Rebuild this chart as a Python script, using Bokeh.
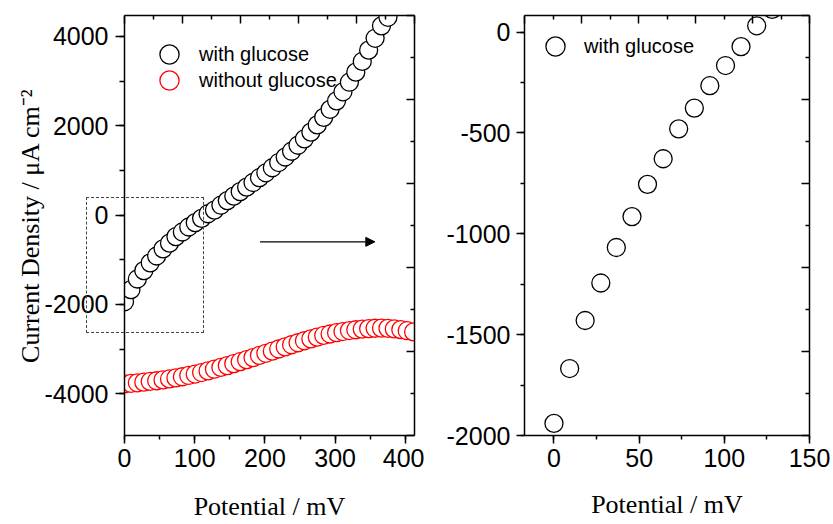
from bokeh.plotting import figure
from bokeh.models import (Range1d, LinearAxis, FixedTicker, SingleIntervalTicker,
                          PrintfTickFormatter, Legend, LegendItem, Arrow, NormalHead, Div)
from bokeh.layouts import row
from bokeh.embed import file_html
from bokeh.resources import INLINE

# ---------------- data ----------------
potential_glucose = [0.0, 9.2, 18.3, 27.5, 36.6, 45.8, 54.9, 64.1, 73.2, 82.4,
                     91.5, 100.7, 109.8, 119.0, 128.1, 137.3, 146.4, 155.6, 164.7, 173.9,
                     183.0, 192.2, 201.3, 210.5, 219.6, 228.8, 237.9, 247.1, 256.2, 265.4,
                     274.5, 283.7, 292.8, 302.0, 311.1, 320.3, 329.4, 338.6, 347.7, 356.9,
                     366.0, 375.2]
with_glucose = [-1940, -1668, -1430, -1244, -1068, -915, -755, -628, -480, -377,
                -266, -166, -72, 31, 112, 222, 326, 427, 527, 628,
                731, 838, 948, 1061, 1178, 1301, 1430, 1565, 1708, 1860,
                2020, 2190, 2370, 2560, 2762, 2976, 3202, 3441, 3694, 3960,
                4238, 4430]

potential_blank = [0.0, 9.2, 18.3, 27.5, 36.6, 45.8, 54.9, 64.1, 73.2, 82.4,
                   91.5, 100.7, 109.8, 119.0, 128.1, 137.3, 146.4, 155.6, 164.7, 173.9,
                   183.0, 192.2, 201.3, 210.5, 219.6, 228.8, 237.9, 247.1, 256.2, 265.4,
                   274.5, 283.7, 292.8, 302.0, 311.1, 320.3, 329.4, 338.6, 347.7, 356.9,
                   366.0, 375.2, 384.3, 393.5, 402.6, 411.8]
without_glucose = [-3780, -3768, -3754, -3740, -3724, -3708, -3690, -3668, -3644, -3618,
                   -3590, -3558, -3524, -3488, -3450, -3410, -3369, -3326, -3282, -3236,
                   -3189, -3141, -3093, -3045, -2997, -2949, -2902, -2857, -2813, -2771,
                   -2731, -2694, -2661, -2632, -2606, -2584, -2566, -2551, -2540, -2533,
                   -2530, -2534, -2547, -2565, -2588, -2614]

LEFT_X = (0, 413)
LEFT_Y = (-4934, 4470)
RIGHT_X = (-17.3, 150)
RIGHT_Y = (-2000, 82)

LABEL_FONT = "Liberation Sans"
TITLE_FONT = "Liberation Serif"


def style_axis(ax, tick_out=9, minor_out=5, standoff=6):
    ax.formatter = PrintfTickFormatter(format="%d")
    ax.axis_line_color = "black"
    ax.axis_line_width = 1.5
    ax.major_tick_line_color = "black"
    ax.major_tick_line_width = 1.5
    ax.minor_tick_line_color = "black"
    ax.minor_tick_line_width = 1.5
    ax.major_tick_out = tick_out
    ax.major_tick_in = 0
    ax.minor_tick_out = minor_out
    ax.minor_tick_in = 0
    ax.major_label_text_font = LABEL_FONT
    ax.major_label_text_font_size = "25px"
    ax.major_label_text_color = "black"
    ax.major_label_standoff = standoff
    ax.axis_label_text_font = TITLE_FONT
    ax.axis_label_text_font_size = "26px"
    ax.axis_label_text_font_style = "normal"
    ax.axis_label_text_color = "black"


def mirror_axis(lo, hi):
    step = (hi - lo) / 10.0
    ticks = [lo + k * step for k in range(11)]
    ax = LinearAxis(ticker=FixedTicker(ticks=ticks[0::2], minor_ticks=ticks[1::2]))
    ax.axis_line_color = "black"
    ax.axis_line_width = 1.5
    ax.major_tick_line_color = "black"
    ax.major_tick_line_width = 1.5
    ax.minor_tick_line_color = "black"
    ax.minor_tick_line_width = 1.5
    ax.major_tick_in = 8
    ax.major_tick_out = 0
    ax.minor_tick_in = 4
    ax.minor_tick_out = 0
    ax.major_label_text_color = None
    ax.major_label_text_font_size = "1px"
    ax.major_label_standoff = 0
    return ax


def base_figure(width, xr, yr, border_left, border_right, border_bottom):
    p = figure(width=width, height=524,
               x_range=Range1d(*xr), y_range=Range1d(*yr),
               output_backend="svg", toolbar_location=None,
               min_border_left=border_left, min_border_right=border_right,
               min_border_top=15, min_border_bottom=border_bottom)
    p.xgrid.visible = False
    p.ygrid.visible = False
    p.outline_line_color = None
    p.background_fill_color = "white"
    p.border_fill_color = "white"
    bottom_axis = p.below[0]
    left_axis = p.left[0]
    p.add_layout(mirror_axis(*xr), "above")
    p.add_layout(mirror_axis(*yr), "right")
    return p, bottom_axis, left_axis


def legend_for(items, padding, glyph_width, standoff, spacing=0):
    return Legend(items=items, location="top_left", margin=0, padding=padding,
                  glyph_width=glyph_width, glyph_height=48, label_standoff=standoff,
                  spacing=spacing,
                  label_text_font=LABEL_FONT, label_text_font_size="20px",
                  label_text_color="black",
                  background_fill_alpha=0, border_line_alpha=0)


# ---------------- left panel ----------------
p1, bx1, ly1 = base_figure(424, LEFT_X, LEFT_Y, 124, 10, 89)
style_axis(bx1, tick_out=8, minor_out=4, standoff=5)
style_axis(ly1, tick_out=9, minor_out=5, standoff=7)
bx1.ticker = SingleIntervalTicker(interval=100, num_minor_ticks=2)
ly1.ticker = SingleIntervalTicker(interval=2000, num_minor_ticks=2)
bx1.axis_label = "Potential / mV"
bx1.axis_label_standoff = 22
ly1.axis_label = "Current Density / \u03bcA cm\u207b\u00b2"
ly1.axis_label_standoff = -3

p1.add_layout(Arrow(end=NormalHead(size=9, fill_color="black", line_color="black", line_width=1),
                    x_start=193, y_start=-598, x_end=356.5, y_end=-598,
                    line_color="black", line_width=1.3))

r_red = p1.scatter(potential_blank, without_glucose, marker="circle", size=18,
                   line_color="red", fill_color="white", line_width=1.3)
r_blk = p1.scatter(potential_glucose, with_glucose, marker="circle", size=18,
                   line_color="black", fill_color="white", line_width=1.3)

p1.add_layout(legend_for([LegendItem(label="with glucose", renderers=[r_blk])], 15, 60, 0))
# second entry: its own legend box, one text line (26 px) lower
leg_b = Legend(items=[LegendItem(label="without glucose", renderers=[r_red])],
               location=(0, 316), margin=0, padding=15,
               glyph_width=60, glyph_height=48, label_standoff=0,
               label_text_font=LABEL_FONT, label_text_font_size="20px",
               label_text_color="black",
               background_fill_alpha=0, border_line_alpha=0)
p1.add_layout(leg_b)

# ---------------- right panel ----------------
p2, bx2, ly2 = base_figure(409, RIGHT_X, RIGHT_Y, 100, 24, 87)
style_axis(bx2, tick_out=8, minor_out=4, standoff=5)
style_axis(ly2, tick_out=8, minor_out=4, standoff=6)
bx2.ticker = SingleIntervalTicker(interval=50, num_minor_ticks=2)
ly2.ticker = SingleIntervalTicker(interval=500, num_minor_ticks=2)
bx2.axis_label = "Potential / mV"
bx2.axis_label_standoff = 20

r_blk2 = p2.scatter(potential_glucose, with_glucose, marker="circle", size=18,
                    line_color="black", fill_color="white", line_width=1.3)
p2.add_layout(legend_for([LegendItem(label="with glucose", renderers=[r_blk2])], 7, 48, 5))

# dashed zoom window of the left panel; it crosses the y axis, so it is an overlay
zoom_box = Div(text="", width=118, height=136, margin=0,
               styles={"position": "absolute", "left": "86px", "top": "197px",
                       "width": "118px", "height": "136px",
                       "border": "1px dashed #444444", "box-sizing": "border-box",
                       "pointer-events": "none", "background": "transparent"})

layout = row(p1, p2, zoom_box)
open("out.html", "w").write(file_html(layout, INLINE))
